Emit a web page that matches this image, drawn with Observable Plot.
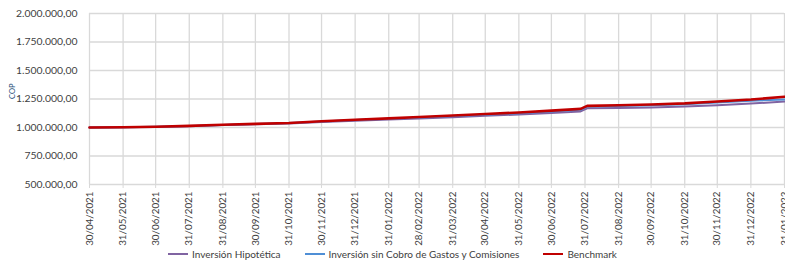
<!DOCTYPE html>
<html>
<head>
<meta charset="utf-8">
<script src="https://cdn.jsdelivr.net/npm/d3@7"></script>
<script src="https://cdn.jsdelivr.net/npm/@observablehq/plot@0.6"></script>
<style>
  html, body { margin: 0; padding: 0; background: #fff; }
  body { width: 785px; height: 266px; overflow: hidden; font-family: Lato, "Open Sans", sans-serif; }
  #legend { display: flex; justify-content: center; align-items: center; gap: 24px; font-size: 10px; color: #404040; height: 20px; margin-top: -2px; }
  #legend .item { display: flex; align-items: center; gap: 4px; }
  #legend .sw { display: inline-block; width: 20px; height: 0; border-top-style: solid; }
</style>
</head>
<body>
<div id="chart"></div>
<div id="legend"></div>
<script>
const dates = ["2021-04-30","2021-05-31","2021-06-30","2021-07-31","2021-08-31","2021-09-30","2021-10-31","2021-11-30","2021-12-31","2022-01-31","2022-02-28","2022-03-31","2022-04-30","2022-05-31","2022-06-30","2022-07-27","2022-08-02","2022-08-31","2022-09-30","2022-10-31","2022-11-30","2022-12-31","2023-01-31"];
const hipotetica = [1000000,1001500,1005000,1012000,1021000,1028000,1035000,1048000,1059000,1070000,1080000,1091000,1102000,1114000,1128000,1141000,1168000,1171000,1176000,1184000,1196000,1210000,1227000];
const sinCobro = [1000000,1002000,1006000,1013500,1023000,1031000,1038500,1053000,1065000,1076500,1088000,1100500,1112500,1126000,1141000,1155000,1184000,1188000,1195000,1205000,1219000,1234000,1246000];
const benchmark = [1000000,1002000,1006000,1014000,1024000,1032000,1040000,1055000,1068000,1080000,1092000,1105000,1118000,1132000,1148000,1163000,1190000,1195000,1202000,1212000,1228000,1245000,1270000];
const tickDates = ["2021-04-30","2021-05-31","2021-06-30","2021-07-31","2021-08-31","2021-09-30","2021-10-31","2021-11-30","2021-12-31","2022-01-31","2022-02-28","2022-03-31","2022-04-30","2022-05-31","2022-06-30","2022-07-31","2022-08-31","2022-09-30","2022-10-31","2022-11-30","2022-12-31","2023-01-31"];
const yTicks = [500000,750000,1000000,1250000,1500000,1750000,2000000];
const seriesNames = ["Inversión Hipotética","Inversión sin Cobro de Gastos y Comisiones","Benchmark"];
const seriesColors = ["#8064A2","#4F8FD6","#C00000"];
const seriesWidths = [2,2,2.6];

const parse = d3.utcParse("%Y-%m-%d");
const seriesValues = [hipotetica, sinCobro, benchmark];
const table = [];
seriesNames.forEach((name, s) => {
  dates.forEach((d, i) => table.push({date: parse(d), value: seriesValues[s][i], series: name}));
});
const locale = d3.formatLocale({decimal: ",", thousands: ".", grouping: [3], currency: ["", ""]});
const fmtY = locale.format(",.2f");
const fmtX = d3.utcFormat("%d/%m/%Y");
const ticksX = tickDates.map(parse);

const lines = seriesNames.map((name, s) =>
  Plot.line(table.filter(d => d.series === name), {x: "date", y: "value", stroke: seriesColors[s], strokeWidth: seriesWidths[s], strokeLinejoin: "round"})
);

const chart = Plot.plot({
  width: 785,
  height: 246,
  marginLeft: 89,
  marginRight: 1,
  marginTop: 13,
  marginBottom: 62,
  style: {fontFamily: "Lato, 'Open Sans', sans-serif", fontSize: "10px", color: "#404040", overflow: "visible"},
  x: {type: "utc", domain: [parse("2021-04-30"), parse("2023-01-31")]},
  y: {domain: [500000, 2000000]},
  marks: [
    Plot.gridX(ticksX, {stroke: "#d9d9d9", strokeOpacity: 1, strokeWidth: 1.3}),
    Plot.gridY(yTicks, {stroke: "#d9d9d9", strokeOpacity: 1, strokeWidth: 1.3}),
    Plot.axisY(yTicks, {tickFormat: fmtY, tickSize: 0, tickPadding: 12, label: null, fill: "#404040", fontSize: 10.4}),
    Plot.axisX(ticksX, {tickFormat: fmtX, tickRotate: -90, tickSize: 4, tickPadding: 3, label: null, stroke: "#d9d9d9", fill: "#404040", fontSize: 9.8}),
    Plot.text(["COP"], {frameAnchor: "left", dx: -77, rotate: -90, fontSize: 7.5, fill: "#1F4E79"}),
    ...lines
  ]
});
document.getElementById("chart").appendChild(chart);

const legend = document.getElementById("legend");
seriesNames.forEach((name, s) => {
  const item = document.createElement("div");
  item.className = "item";
  const sw = document.createElement("span");
  sw.className = "sw";
  sw.style.borderTopColor = seriesColors[s];
  sw.style.borderTopWidth = seriesWidths[s] + "px";
  const t = document.createElement("span");
  t.textContent = name;
  item.appendChild(sw);
  item.appendChild(t);
  legend.appendChild(item);
});
</script>
</body>
</html>
